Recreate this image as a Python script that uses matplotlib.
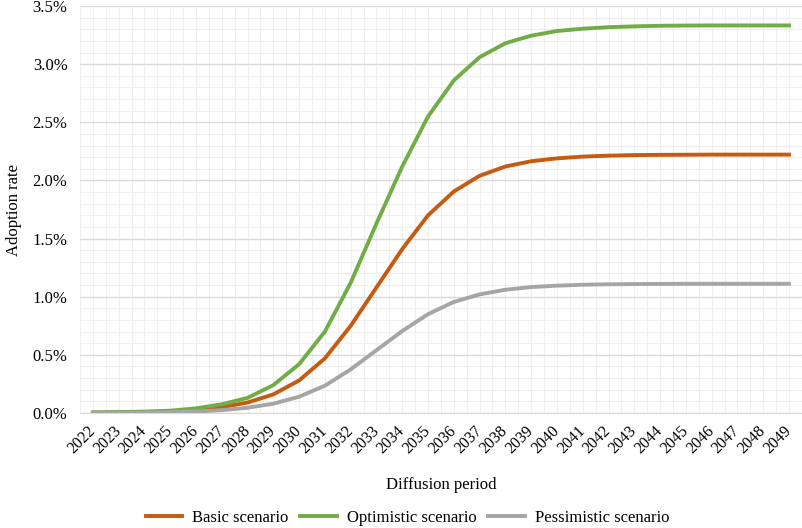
import numpy as np
import matplotlib
matplotlib.use("Agg")
import matplotlib.pyplot as plt
from matplotlib.ticker import FuncFormatter, MultipleLocator

# data (adoption rate in %)
years = list(range(2022, 2050))
basic = [0.003, 0.005, 0.008, 0.013, 0.025, 0.05, 0.09, 0.16, 0.28, 0.47, 0.75, 1.08, 1.41, 1.70,
         1.905, 2.04, 2.12, 2.165, 2.19, 2.205, 2.213, 2.218, 2.22, 2.221, 2.222, 2.222, 2.222, 2.222]
optimistic = [0.005, 0.008, 0.012, 0.02, 0.04, 0.075, 0.13, 0.24, 0.42, 0.70, 1.12, 1.63, 2.12, 2.55,
              2.86, 3.06, 3.18, 3.245, 3.285, 3.305, 3.318, 3.325, 3.33, 3.332, 3.333, 3.333, 3.333, 3.333]
pessimistic = [0.0015, 0.0025, 0.004, 0.007, 0.012, 0.025, 0.045, 0.08, 0.14, 0.235, 0.375, 0.54, 0.705, 0.85,
               0.955, 1.02, 1.06, 1.083, 1.095, 1.103, 1.107, 1.109, 1.11, 1.111, 1.111, 1.111, 1.111, 1.111]

plt.rcParams['font.family'] = ['Liberation Serif', 'DejaVu Serif']

fig = plt.figure(figsize=(8.03, 5.28), dpi=100)
ax = fig.add_axes([0.0996, 0.2178, 0.899, 0.7708])

x = np.arange(len(years))
ax.plot(x, basic, color='#C55A11', lw=2.8, label='Basic scenario')
ax.plot(x, optimistic, color='#70AD47', lw=2.8, label='Optimistic scenario')
ax.plot(x, pessimistic, color='#A5A5A5', lw=2.8, label='Pessimistic scenario')

ax.set_xlim(-0.5, len(years) - 0.5)
ax.set_ylim(0, 3.5)
ax.set_xticks(x)
ax.set_xticklabels([str(y) for y in years], rotation=45, ha='right', va='center',
                   rotation_mode='anchor', fontsize=11.5)
ax.xaxis.set_minor_locator(MultipleLocator(0.5))
ax.yaxis.set_major_locator(MultipleLocator(0.5))
ax.yaxis.set_minor_locator(MultipleLocator(0.1))
ax.yaxis.set_major_formatter(FuncFormatter(lambda v, p: f"{v:.1f}%"))
ax.tick_params(axis='y', labelsize=12, length=0, which='both', pad=9)
ax.tick_params(axis='x', length=0, which='both', pad=11)

ax.grid(which='minor', color='#efefef', lw=0.8)
ax.grid(which='major', axis='y', color='#d9d9d9', lw=1.0)
ax.grid(which='major', axis='x', color='#efefef', lw=0.8)
ax.set_axisbelow(True)
for s in ['top', 'right', 'left']:
    ax.spines[s].set_visible(False)
ax.spines['bottom'].set_color('#d9d9d9')

ax.set_ylabel('Adoption rate', fontsize=12)
ax.yaxis.set_label_coords(-0.08, 0.5)
ax.set_xlabel('Diffusion period', fontsize=12)
ax.xaxis.set_label_coords(0.5, -0.158)

fig.legend(loc='center', ncol=3, frameon=False, fontsize=12,
           bbox_to_anchor=(0.5075, 1 - 518 / 528), handlelength=2.2,
           handletextpad=0.6, columnspacing=0.7)

fig.savefig('out.png', dpi=100)
